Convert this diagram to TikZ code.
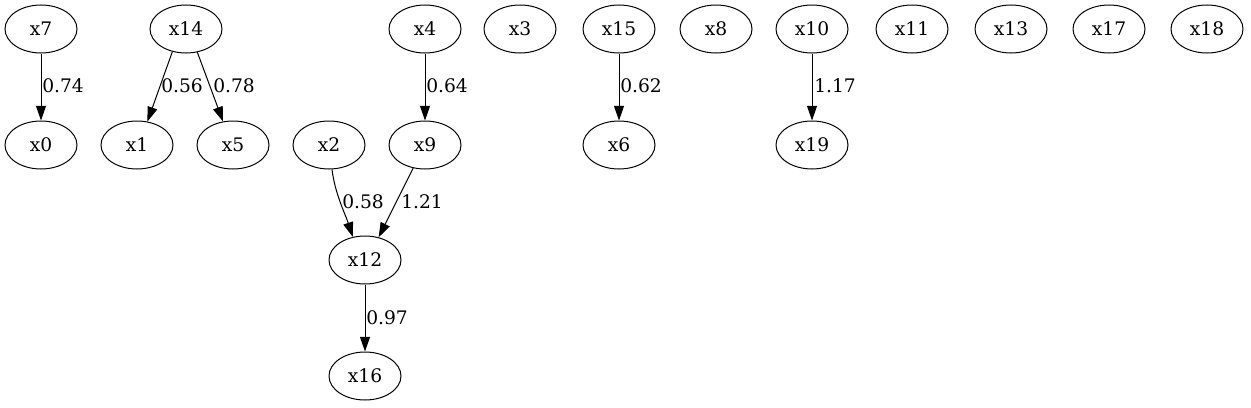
\documentclass[tikz,border=0pt]{standalone}
\usepackage{fontspec}
\setmainfont{DejaVu Serif}
\usetikzlibrary{arrows.meta,shapes.geometric}

\begin{document}
\begin{tikzpicture}[x=0.75pt,y=-0.75pt,
  var/.style={draw,ellipse,line width=0.75pt,minimum width=54pt,minimum height=36pt,inner sep=0pt,font=\fontsize{14}{16}\selectfont},
  wt/.style={anchor=west,inner sep=0pt,font=\fontsize{14}{16}\selectfont},
  edge/.style={line width=0.75pt,-{Triangle[length=11pt,width=7.5pt]}}]
  \useasboundingbox (0,0) rectangle (1251,407);
  % top row
  \node[var] (x7)  at (41,29)   {x7};
  \node[var] (x14) at (186,29)  {x14};
  \node[var] (x4)  at (425,29)  {x4};
  \node[var] (x3)  at (520,29)  {x3};
  \node[var] (x15) at (619,29)  {x15};
  \node[var] (x8)  at (716,29)  {x8};
  \node[var] (x10) at (812,29)  {x10};
  \node[var] (x11) at (912,29)  {x11};
  \node[var] (x13) at (1011,29) {x13};
  \node[var] (x17) at (1109,29) {x17};
  \node[var] (x18) at (1207,29) {x18};
  % second row
  \node[var] (x0)  at (41,145)  {x0};
  \node[var] (x1)  at (137,145) {x1};
  \node[var] (x5)  at (233,145) {x5};
  \node[var] (x2)  at (329,145) {x2};
  \node[var] (x9)  at (425,145) {x9};
  \node[var] (x6)  at (619,145) {x6};
  \node[var] (x19) at (812,145) {x19};
  % lower rows
  \node[var] (x12) at (365,260) {x12};
  \node[var] (x16) at (365,376) {x16};

  \draw[edge] (x7) -- (x0);
  \draw[edge] (x14.239) -- (x1.66);
  \draw[edge] (x14.296) -- (x5.113);
  \draw[edge] (x4) -- (x9);
  \draw[edge] (x15) -- (x6);
  \draw[edge] (x10) -- (x19);
  \draw[edge] (x2.277) to[out=-83,in=108,looseness=0.9] (x12.118);
  \draw[edge] (x9.243) -- (x12.59);
  \draw[edge] (x12) -- (x16);

  \node[wt] (w0) at (42,86)  {0.74};
  \node[wt] (w1) at (161,86) {0.56};
  \node[wt] (w2) at (213,86) {0.78};
  \node[wt] (w3) at (426,86) {0.64};
  \node[wt] (w4) at (620,86) {0.62};
  \node[wt] (w5) at (814,86) {1.17};
  \node[wt] (w6) at (342,202) {0.58};
  \node[wt] (w7) at (401,202) {1.21};
  \node[wt] (w8) at (366,318) {0.97};
\end{tikzpicture}
\end{document}
